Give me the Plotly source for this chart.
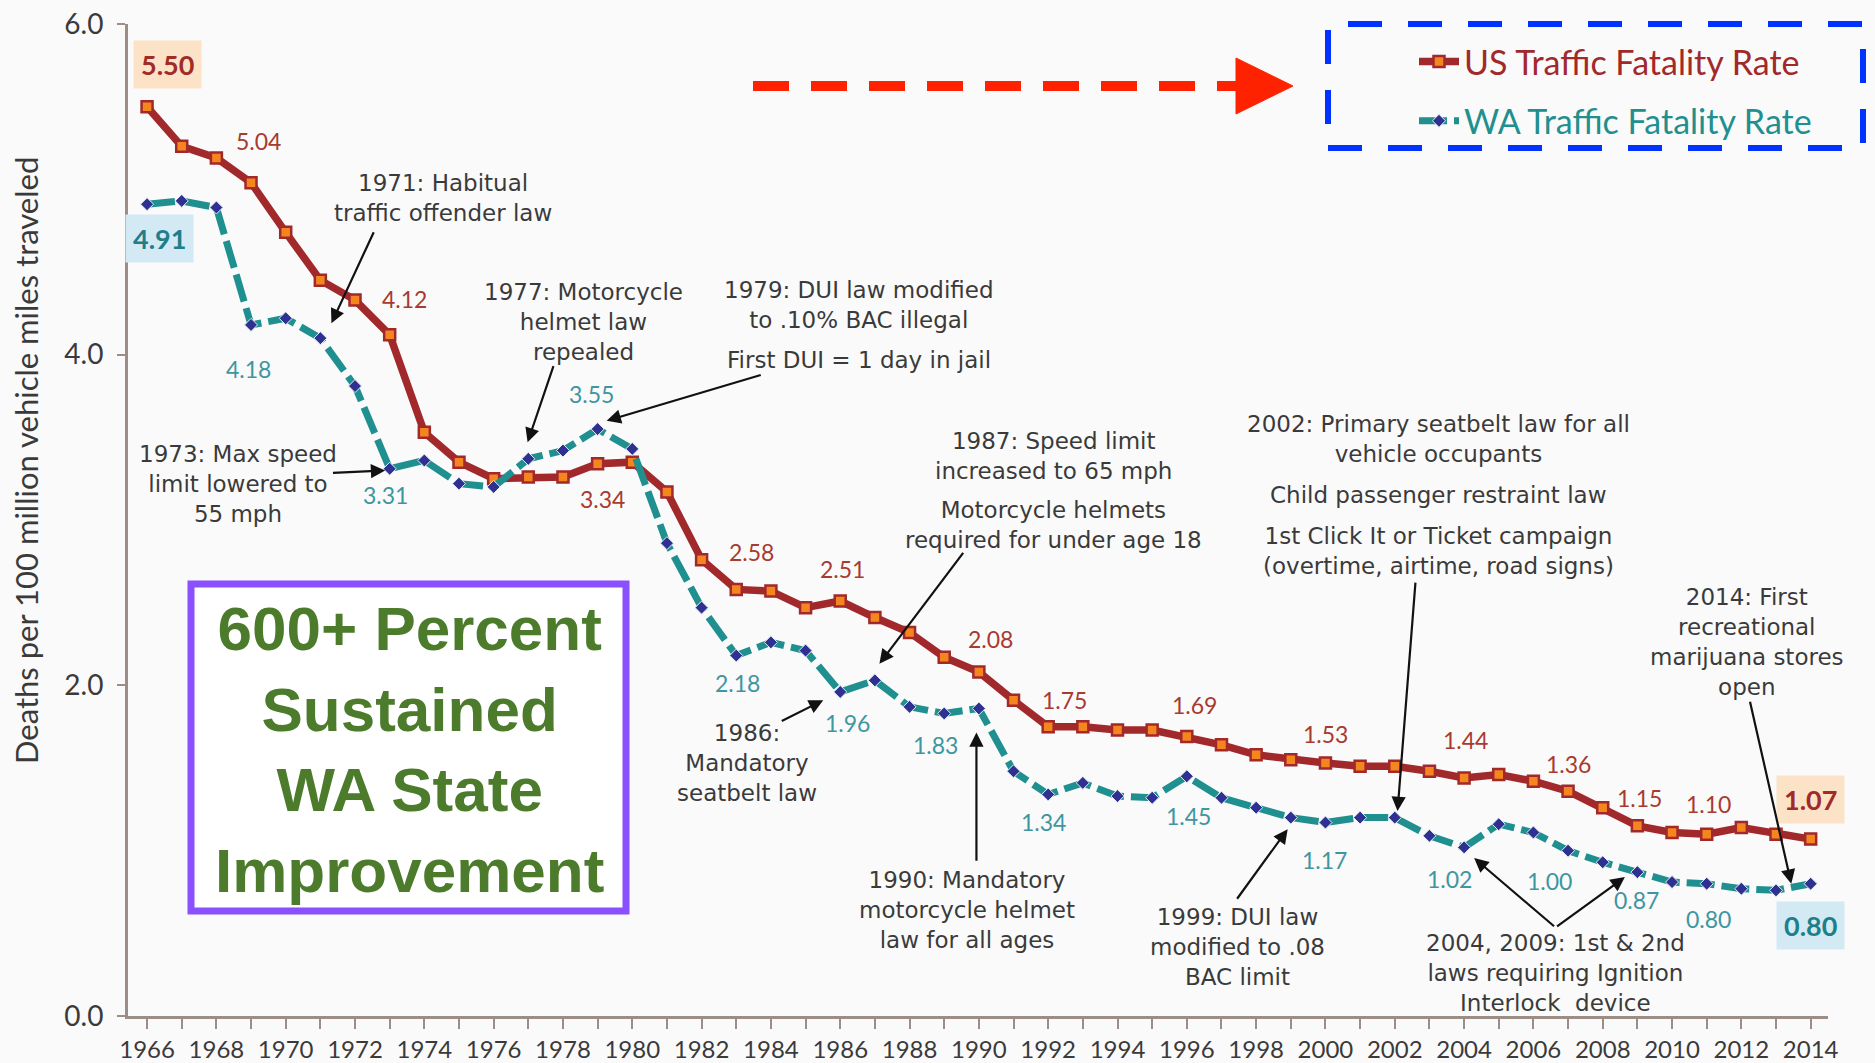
import plotly.graph_objects as go

# ---------------- data ----------------
years = list(range(1966, 2015))
us_rate = [5.50, 5.26, 5.19, 5.04, 4.74, 4.45, 4.33, 4.12, 3.53, 3.35,
           3.25, 3.26, 3.26, 3.34, 3.35, 3.17, 2.76, 2.58, 2.57, 2.47,
           2.51, 2.41, 2.32, 2.17, 2.08, 1.91, 1.75, 1.75, 1.73, 1.73,
           1.69, 1.64, 1.58, 1.55, 1.53, 1.51, 1.51, 1.48, 1.44, 1.46,
           1.42, 1.36, 1.26, 1.15, 1.11, 1.10, 1.14, 1.10, 1.07]
wa_rate = [4.91, 4.93, 4.89, 4.18, 4.22, 4.10, 3.81, 3.31, 3.36, 3.22,
           3.20, 3.37, 3.42, 3.55, 3.43, 2.86, 2.47, 2.18, 2.26, 2.21,
           1.96, 2.03, 1.87, 1.83, 1.86, 1.48, 1.34, 1.41, 1.33, 1.32,
           1.45, 1.32, 1.26, 1.20, 1.17, 1.20, 1.20, 1.09, 1.02, 1.16,
           1.11, 1.00, 0.93, 0.87, 0.81, 0.80, 0.77, 0.76, 0.80]
x_tick_years = list(range(1966, 2015, 2))
y_ticks = [0, 2, 4, 6]

us_name = "US Traffic Fatality Rate"
wa_name = "WA Traffic Fatality Rate"
y_title = "Deaths per 100 million vehicle miles traveled"

# labelled years (year, xshift px, yshift px)
us_labels = [(1969, 7, 42), (1973, 15, 36), (1979, 5, -35), (1983, 15, 37),
             (1986, 2, 32), (1990, 12, 33), (1992, 16, 27), (1996, 8, 32),
             (2000, 0, 29), (2004, 1, 38), (2007, 0, 27), (2009, 2, 28),
             (2011, 2, 30)]
wa_labels = [(1969, -3, -44), (1973, -4, -26), (1979, -6, 35), (1983, 1, -27),
             (1986, 7, -31), (1989, -9, -32), (1992, -5, -28), (1996, 2, -40),
             (2000, -1, -37), (2004, -15, -32), (2007, -19, -30), (2009, -1, -28),
             (2011, 2, -35)]
us_bold = [(1966, 20, 42), (2014, 0, 40)]
wa_bold = [(1966, 12, -34), (2014, 0, -42)]

# event notes: (text, x-year, y-value)
notes = [
    ("1971: Habitual<br>traffic offender law", 1974.53, 4.95),
    ("1973: Max speed<br>limit lowered to<br>55 mph", 1968.62, 3.22),
    ("1977: Motorcycle<br>helmet law<br>repealed", 1978.60, 4.20),
    ("1979: DUI law modified<br>to .10% BAC illegal", 1986.55, 4.30),
    ("First DUI = 1 day in jail", 1986.55, 3.97),
    ("1987: Speed limit<br>increased to 65 mph", 1992.14, 3.39),
    ("Motorcycle helmets<br>required for under age 18", 1992.14, 2.97),
    ("1986:<br>Mandatory<br>seatbelt law", 1983.30, 1.53),
    ("1990: Mandatory<br>motorcycle helmet<br>law for all ages", 1989.65, 0.64),
    ("1999: DUI law<br>modified to .08<br>BAC limit", 1997.46, 0.42),
    ("2002: Primary seatbelt law for all<br>vehicle occupants", 2003.26, 3.49),
    ("Child passenger restraint law", 2003.26, 3.15),
    ("1st Click It or Ticket campaign<br>(overtime, airtime, road signs)", 2003.26, 2.81),
    ("2014: First<br>recreational<br>marijuana stores<br>open", 2012.17, 2.26),
    ("2004, 2009: 1st &amp; 2nd<br>laws requiring Ignition<br>Interlock  device", 2006.64, 0.26),
]
# arrows: (tail x, tail y, tip x, tip y)
arrows = [
    (1972.56, 4.75, 1971.32, 4.19),
    (1971.32, 3.285, 1972.87, 3.30),
    (1977.74, 3.94, 1976.98, 3.47),
    (1983.75, 3.88, 1979.26, 3.60),
    (1989.58, 2.81, 1987.13, 2.13),
    (1984.27, 1.78, 1985.51, 1.91),
    (1989.93, 0.93, 1989.93, 1.715),
    (1997.42, 0.70, 1998.91, 1.13),
    (2002.60, 2.63, 2002.08, 1.24),
    (2012.24, 1.91, 2013.44, 0.80),
    (2006.64, 0.535, 2004.29, 0.955),
    (2006.64, 0.535, 2008.64, 0.84),
]
callout = "600+ Percent<br>Sustained<br>WA State<br>Improvement"

# ---------------- styling / layout helpers ----------------
W, H = 1875, 1063
L, R, T, B = 128, 47, 24, 47
PW, PH = W - L - R, H - T - B


def px(xp):
    return (xp - L) / PW


def py(yp):
    return (H - B - yp) / PH


FONT = "Lato, 'Open Sans', sans-serif"
NOTE_FONT = "'DejaVu Sans', Lato, sans-serif"
US_LINE = "#A2292B"
US_MARK = "#F5861F"
WA_LINE = "#1F8F8F"
WA_MARK = "#2E3192"
US_TXT = "#A83A30"
WA_TXT = "#3E96A0"
AX = "#9C8E86"
NOTE = "#3A3A3A"

fig = go.Figure()
fig.add_trace(go.Scatter(
    x=years, y=us_rate, mode="lines+markers",
    name=f"<span style='color:{US_LINE}'>{us_name}</span>",
    legendgroup="us",
    line=dict(color=US_LINE, width=7.5),
    marker=dict(symbol="square", size=11, color=US_MARK,
                line=dict(color=US_LINE, width=2.5)),
))
fig.add_trace(go.Scatter(
    x=years, y=wa_rate, mode="lines+markers",
    name=f"<span style='color:{WA_LINE}'>{wa_name}</span>",
    legendgroup="wa",
    line=dict(color=WA_LINE, width=7, dash="28px,7px"),
    marker=dict(symbol="diamond", size=10, color=WA_MARK,
                line=dict(color="#E6EEF0", width=1)),
))

ann = []
for yr, dx, dy in us_labels:
    i = years.index(yr)
    ann.append(dict(x=yr, y=us_rate[i], text=f"{us_rate[i]:.2f}", showarrow=False,
                    xshift=dx, yshift=dy, font=dict(family=FONT, size=23, color=US_TXT)))
for yr, dx, dy in wa_labels:
    i = years.index(yr)
    ann.append(dict(x=yr, y=wa_rate[i], text=f"{wa_rate[i]:.2f}", showarrow=False,
                    xshift=dx, yshift=dy, font=dict(family=FONT, size=23, color=WA_TXT)))
for yr, dx, dy in us_bold:
    i = years.index(yr)
    ann.append(dict(x=yr, y=us_rate[i], text=f"<b>{us_rate[i]:.2f}</b>", showarrow=False,
                    xshift=dx, yshift=dy, bgcolor="#FCE3C8", borderpad=7,
                    font=dict(family=FONT, size=27, color="#A12B27")))
for yr, dx, dy in wa_bold:
    i = years.index(yr)
    ann.append(dict(x=yr, y=wa_rate[i], text=f"<b>{wa_rate[i]:.2f}</b>", showarrow=False,
                    xshift=dx, yshift=dy, bgcolor="#D3EAF5", borderpad=7,
                    font=dict(family=FONT, size=27, color="#1E7F8A")))
for txt, xx, yy in notes:
    ann.append(dict(x=xx, y=yy, text=txt, showarrow=False, align="center",
                    xanchor="center", yanchor="middle",
                    font=dict(family=NOTE_FONT, size=23, color=NOTE)))
for tx, ty, hx, hy in arrows:
    ann.append(dict(x=hx, y=hy, ax=tx, ay=ty, axref="x", ayref="y", text="",
                    showarrow=True, arrowhead=2, arrowsize=1.3, arrowwidth=2.2,
                    arrowcolor="#111111", standoff=0, startstandoff=0))
ann.append(dict(xref="paper", yref="paper", x=px(409), y=py(749), text=callout,
                showarrow=False, align="center", xanchor="center", yanchor="middle",
                font=dict(family="'Liberation Sans', Arial, sans-serif", size=62,
                          color="#4B7B2B", weight=700)))
ann.append(dict(xref="paper", yref="paper", x=px(26), y=py(461), text=y_title,
                showarrow=False, textangle=-90, xanchor="center", yanchor="middle",
                font=dict(family=FONT, size=31, color=NOTE)))

shapes = [
    dict(type="rect", xref="paper", yref="paper", x0=px(191), x1=px(626),
         y0=py(911), y1=py(584), line=dict(color="#8A4FFF", width=7),
         fillcolor="white", layer="above"),
    dict(type="line", xref="paper", yref="paper", x0=px(753), x1=px(1240),
         y0=py(86), y1=py(86), line=dict(color="#FF2200", width=10, dash="36px,22px")),
    dict(type="path", xref="paper", yref="paper",
         path=f"M {px(1236)} {py(58)} L {px(1236)} {py(114)} L {px(1293)} {py(86)} Z",
         fillcolor="#FF2200", line=dict(color="#FF2200", width=1)),
    dict(type="rect", xref="paper", yref="paper", x0=px(1328), x1=px(1863),
         y0=py(148), y1=py(24), line=dict(color="#0033FF", width=6, dash="34px,26px")),
]

fig.update_layout(
    width=W, height=H,
    margin=dict(l=L, r=R, t=T, b=B, autoexpand=False),
    paper_bgcolor="#FAFAFA", plot_bgcolor="#FAFAFA",
    font=dict(family=FONT, color=NOTE),
    showlegend=True,
    legend=dict(x=px(1414), y=py(33), xanchor="left", yanchor="top",
                bgcolor="rgba(0,0,0,0)", font=dict(family=FONT, size=34),
                traceorder="grouped", tracegroupgap=12, itemwidth=40),
    annotations=ann,
    shapes=shapes,
    xaxis=dict(range=[1965.45, 2014.5], tickmode="array", tickvals=x_tick_years,
               ticks="outside", ticklen=10, tickwidth=2, tickcolor=AX,
               showline=True, linecolor=AX, linewidth=3, showgrid=False,
               zeroline=False, ticklabelstandoff=0, automargin=False,
               tickfont=dict(family=FONT, size=24, color=NOTE),
               minor=dict(tickvals=years, ticks="outside", ticklen=10,
                          tickwidth=2, tickcolor=AX, showgrid=False)),
    yaxis=dict(range=[0, 6], tickmode="array", tickvals=y_ticks, tickformat=".1f",
               ticks="outside", ticklen=8, tickwidth=2, tickcolor=AX,
               showline=True, linecolor=AX, linewidth=3, showgrid=False,
               zeroline=False, ticklabelstandoff=8, automargin=False,
               tickfont=dict(family=FONT, size=28, color=NOTE)),
)

fig.write_html("out.html", config={"displayModeBar": False},
               post_script="document.body.style.margin='0';document.body.style.overflow='hidden';")
